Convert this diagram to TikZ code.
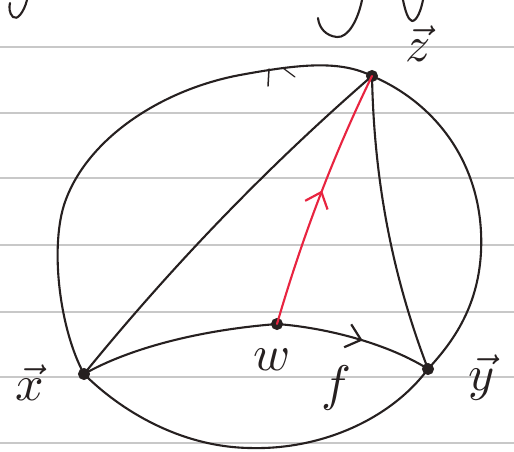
\documentclass[tikz,border=0pt]{standalone}
\usetikzlibrary{arrows.meta,decorations.markings}
\definecolor{ink}{RGB}{38,32,32}
\definecolor{redink}{RGB}{232,36,64}
\definecolor{paperline}{RGB}{200,200,200}
\begin{document}
\begin{tikzpicture}[x=1pt,y=-1pt,
  stroke/.style={draw=ink,line width=2.1pt,line cap=round,line join=round},
  vtx/.style={circle,fill=ink,draw=ink,line width=1pt,inner sep=0pt,minimum size=11pt},
  lbl/.style={text=ink,inner sep=0pt,scale=5,transform shape},
  midarrow/.style={postaction={decorate},decoration={markings,
     mark=at position #1 with {\arrow{Straight Barb[length=14pt,width=24pt,line width=2.2pt]}}}}
]
\useasboundingbox (0,0) rectangle (514,451);
\fill[white] (0,0) rectangle (514,451);
% ruled paper
\foreach \yy in {47,113,178,245,312,377,443}
  \draw[paperline,line width=1.4pt] (0,\yy) -- (514,\yy);
% fragments of writing above
\draw[stroke] (27,0) .. controls (24,12) and (17,21) .. (13,17) .. controls (9,13) and (9,7) .. (10,3);
\draw[stroke] (362,0) .. controls (358,20) and (348,38) .. (337,37) .. controls (326,36) and (319,28) .. (318,18);
\draw[stroke] (403,0) .. controls (405,10) and (408,20) .. (412,21) .. controls (417,21) and (421,10) .. (423,0);
% vertices
\node[vtx] (X) at (84,374) {};
\node[vtx] (Y) at (428,369) {};
\node[vtx] (Z) at (372,76) {};
\node[vtx] (W) at (277,324) {};
% outer loop
\draw[stroke] (X.center) .. controls (60,330) and (50,250) .. (64,205)
  .. controls (85,140) and (160,90) .. (240,75)
  .. controls (300,64) and (340,60) .. (Z.center)
  .. controls (440,105) and (485,170) .. (481,252)
  .. controls (478,310) and (450,345) .. (Y.center);
\draw[stroke] (Y.center) .. controls (390,420) and (320,450) .. (250,448)
  .. controls (180,447) and (120,410) .. (X.center);
% small tick on top of the loop
\draw[stroke,line width=1.5pt] (269,69) -- (268,86);
\draw[stroke,line width=1.2pt] (283,68) -- (295,77);
% inner arc x - w - y
\draw[stroke] (X.center) .. controls (130,348) and (200,330) .. (W.center);
\draw[stroke,midarrow=0.55] (W.center) .. controls (330,328) and (390,345) .. (Y.center);
% chords to z
\draw[stroke] (X.center) .. controls (171,267) and (267,167) .. (Z.center);
\draw[stroke] (Z.center) .. controls (374,180) and (392,275) .. (Y.center);
\draw[stroke,draw=redink,midarrow=0.53] (W.center) .. controls (302,238) and (333,156) .. (Z.center);
% labels
\node[lbl] (lx) at (30,383) {$\vec{x}$};
\node[lbl] (ly) at (482,377) {$\vec{y}$};
\node[lbl] (lz) at (418,44) {$\vec{z}$};
\node[lbl] (lw) at (272,360) {$w$};
\node[lbl] (lf) at (336,388) {$f$};
\end{tikzpicture}
\end{document}
